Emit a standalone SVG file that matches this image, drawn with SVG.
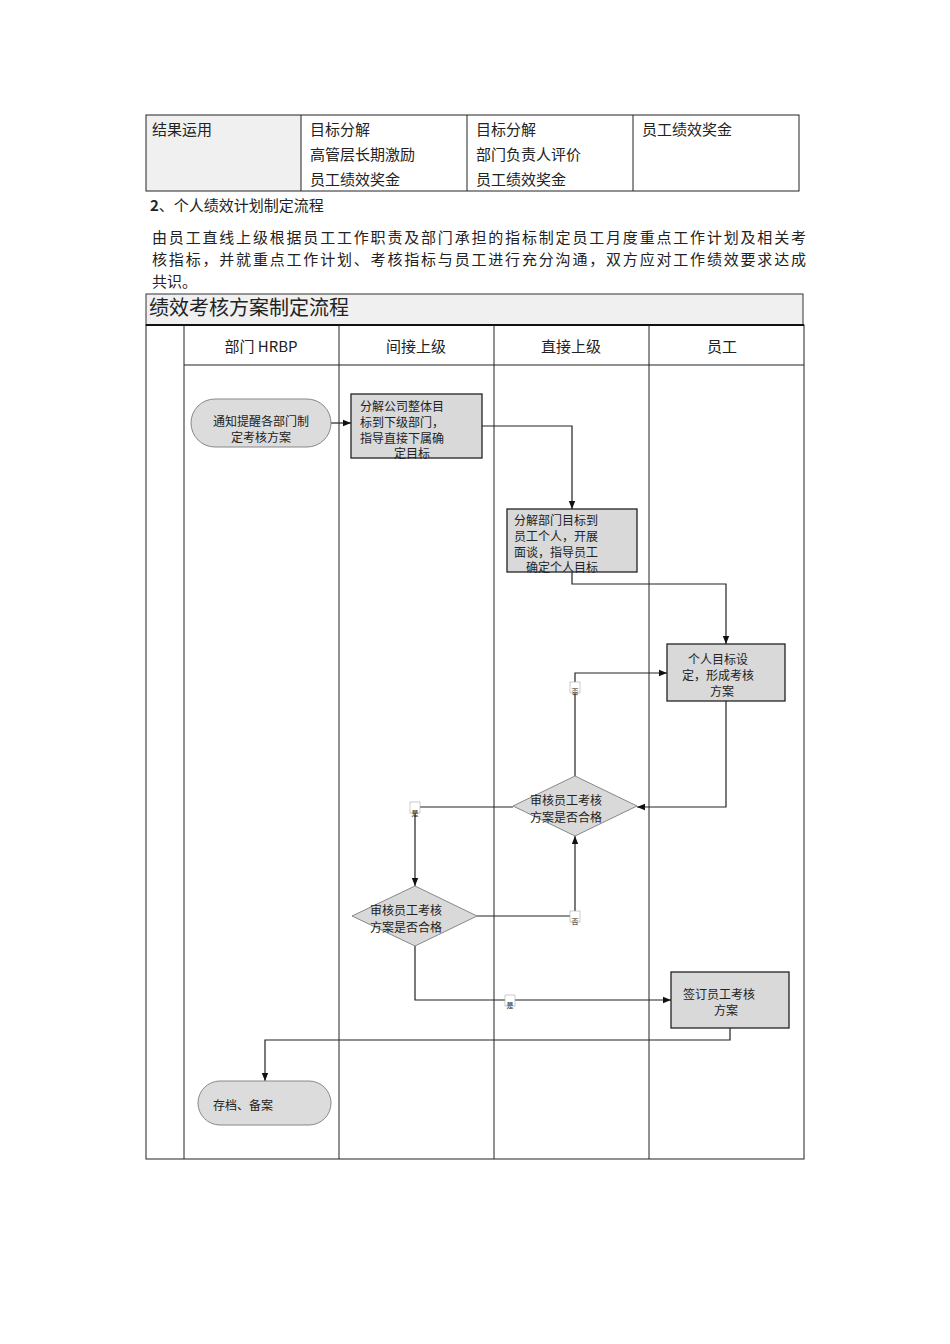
<svg xmlns="http://www.w3.org/2000/svg" width="950" height="1344" viewBox="0 0 950 1344">
<style>
text{font-family:"Noto Sans CJK SC","Liberation Serif",serif;fill:#222}
.t{font-size:15px}
.n{font-size:12px}
.box{fill:#d9d9d9;stroke:#222;stroke-width:1.3}
.ov{fill:#dcdcdc;stroke:#888;stroke-width:1}
.ln{fill:none;stroke:#222;stroke-width:1.2}
.g{fill:none;stroke:#222;stroke-width:1}
.lb{fill:#fff;stroke:#aaa;stroke-width:0.6}
.s{font-size:7px}
</style>
<defs><marker id="a" viewBox="0 0 10 10" refX="10" refY="5" markerWidth="7" markerHeight="7" orient="auto"><path d="M0,1 L10,5 L0,9z" fill="#111"/></marker></defs>
<rect width="950" height="1344" fill="#fff"/>
<g id="table">
<rect x="146" y="115" width="155" height="76" fill="#f0f0f0"/>
<rect x="146" y="115" width="653" height="76" class="g"/>
<line x1="301" y1="115" x2="301" y2="191" class="g"/><line x1="467" y1="115" x2="467" y2="191" class="g"/><line x1="633" y1="115" x2="633" y2="191" class="g"/>
<text x="152" y="135" class="t">结果运用</text>
<text x="310" y="135" class="t">目标分解</text><text x="310" y="160" class="t">高管层长期激励</text><text x="310" y="185" class="t">员工绩效奖金</text>
<text x="476" y="135" class="t">目标分解</text><text x="476" y="160" class="t">部门负责人评价</text><text x="476" y="185" class="t">员工绩效奖金</text>
<text x="642" y="135" class="t">员工绩效奖金</text>
<text x="150" y="211" class="t"><tspan font-weight="bold">2</tspan>、个人绩效计划制定流程</text>
<text x="152" y="243" class="t" textLength="654">由员工直线上级根据员工工作职责及部门承担的指标制定员工月度重点工作计划及相关考</text>
<text x="152" y="265" class="t" textLength="654">核指标，并就重点工作计划、考核指标与员工进行充分沟通，双方应对工作绩效要求达成</text>
<text x="152" y="287" class="t">共识。</text>
</g>
<g id="frame">
<rect x="146" y="294" width="657" height="31" fill="#f0f0f0" stroke="#333"/>
<text x="149" y="315" font-size="20">绩效考核方案制定流程</text>
<rect x="146" y="325" width="658" height="834" class="g"/>
<line x1="146" y1="325" x2="804" y2="325" stroke="#111" stroke-width="2"/>
<line x1="184" y1="325" x2="184" y2="1159" class="g"/>
<line x1="339" y1="325" x2="339" y2="1159" class="g"/>
<line x1="494" y1="325" x2="494" y2="1159" class="g"/>
<line x1="649" y1="325" x2="649" y2="1159" class="g"/>
<line x1="184" y1="365" x2="804" y2="365" class="g"/>
<text x="261" y="352" class="t" text-anchor="middle">部门 HRBP</text>
<text x="416" y="352" class="t" text-anchor="middle">间接上级</text>
<text x="571" y="352" class="t" text-anchor="middle">直接上级</text>
<text x="722" y="352" class="t" text-anchor="middle">员工</text>
</g>
<g id="connectors">
<path d="M331,423 H351" class="ln" marker-end="url(#a)"/>
<path d="M482,426 H572 V509" class="ln" marker-end="url(#a)"/>
<path d="M572,572 V584 H726 V644" class="ln" marker-end="url(#a)"/>
<path d="M726,701 V807 H637" class="ln" marker-end="url(#a)"/>
<path d="M575,776 V673 H667" class="ln" marker-end="url(#a)"/>
<path d="M513,807 H415 V886" class="ln" marker-end="url(#a)"/>
<path d="M477,916 H575 V836" class="ln" marker-end="url(#a)"/>
<path d="M415,946 V1000 H671" class="ln" marker-end="url(#a)"/>
<path d="M730,1028 V1040 H265 V1081" class="ln" marker-end="url(#a)"/>
<rect x="570" y="682" width="10" height="11" class="lb"/><text x="575" y="694" class="s" text-anchor="middle">否</text>
<rect x="410" y="802" width="10" height="11" class="lb"/><text x="415" y="816" class="s" text-anchor="middle">是</text>
<rect x="570" y="911" width="10" height="11" class="lb"/><text x="575" y="924" class="s" text-anchor="middle">否</text>
<rect x="505" y="995" width="10" height="11" class="lb"/><text x="510" y="1008" class="s" text-anchor="middle">是</text>
</g>
<g id="n1"><rect x="191" y="399" width="140" height="48" rx="24" class="ov"/>
<text x="261" y="426" class="n" text-anchor="middle">通知提醒各部门制</text><text x="261" y="442" class="n" text-anchor="middle">定考核方案</text></g>
<g id="n2"><rect x="351" y="394" width="131" height="64" class="box"/>
<text x="360" y="411" class="n">分解公司整体目</text><text x="360" y="427" class="n">标到下级部门，</text><text x="360" y="443" class="n">指导直接下属确</text><text x="412" y="458" class="n" text-anchor="middle">定目标</text></g>
<g id="n3"><rect x="507" y="509" width="130" height="63" class="box"/>
<text x="514" y="525" class="n">分解部门目标到</text><text x="514" y="541" class="n">员工个人，开展</text><text x="514" y="557" class="n">面谈，指导员工</text><text x="562" y="572" class="n" text-anchor="middle">确定个人目标</text></g>
<g id="n4"><rect x="667" y="644" width="118" height="57" class="box"/>
<text x="718" y="664" class="n" text-anchor="middle">个人目标设</text><text x="718" y="680" class="n" text-anchor="middle">定，形成考核</text><text x="722" y="696" class="n" text-anchor="middle">方案</text></g>
<g id="n5"><polygon points="513,806 575,776 637,806 575,836" fill="#d9d9d9" stroke="#888"/>
<text x="566" y="805" class="n" text-anchor="middle">审核员工考核</text><text x="566" y="822" class="n" text-anchor="middle">方案是否合格</text></g>
<g id="n6"><polygon points="352,916 415,886 477,916 415,946" fill="#d9d9d9" stroke="#888"/>
<text x="406" y="915" class="n" text-anchor="middle">审核员工考核</text><text x="406" y="932" class="n" text-anchor="middle">方案是否合格</text></g>
<g id="n7"><rect x="671" y="972" width="118" height="56" class="box"/>
<text x="719" y="999" class="n" text-anchor="middle">签订员工考核</text><text x="726" y="1015" class="n" text-anchor="middle">方案</text></g>
<g id="n8"><rect x="198" y="1081" width="133" height="44" rx="22" class="ov"/>
<text x="243" y="1110" class="n" text-anchor="middle">存档、备案</text></g>
</svg>
